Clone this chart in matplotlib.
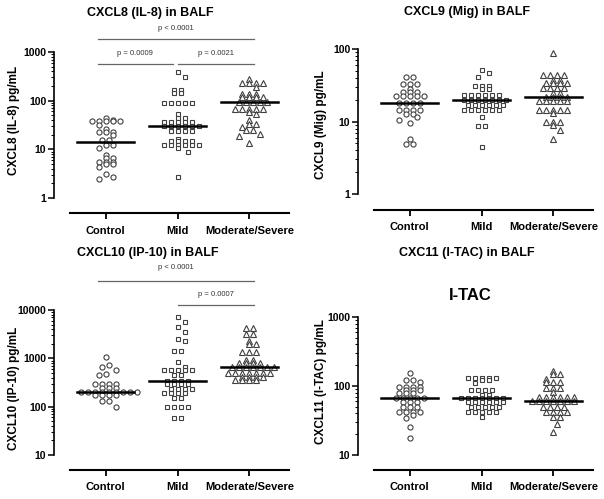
import numpy as np
import matplotlib
matplotlib.use("Agg")
import matplotlib.pyplot as plt
import matplotlib.transforms as mtransforms
from matplotlib.ticker import FixedLocator, LogLocator, NullFormatter

plt.rcParams['font.family'] = ['Liberation Sans', 'DejaVu Sans']

groups = ["Control", "Mild", "Moderate/Severe"]

# CXCL8 (IL-8), pg/mL
il8_control = [45, 41, 38, 38, 38, 38, 38, 31.6, 25.8, 23, 23, 23, 19.6, 15.5, 15.5,
               12.2, 12.2, 10.5, 7.6, 6.7, 6.7, 5.4, 5.4, 5.4, 4.9, 4.9, 4.3, 3.07, 2.74, 2.4]
il8_mild = [382, 301, 165, 165, 141, 141, 88, 88, 88, 88, 88, 53, 45, 45, 36, 36, 36, 36, 36,
            30, 30, 30, 30, 30, 30, 24, 24, 24, 24, 16.3, 14.8, 14.8, 14.8, 14.8,
            12.2, 12.2, 12.2, 12.2, 12.2, 12.2, 10.5, 8.9, 2.7]
il8_modsev = [277, 226, 226, 226, 226, 193, 137, 137, 137, 117, 117, 117, 117, 92, 92, 92, 92, 92,
              69, 69, 69, 69, 69, 59, 53, 40, 33, 33, 29, 25, 25, 21, 18.7, 13.3]

# CXCL9 (Mig), pg/mL
mig_control = [41.5, 41.5, 32.6, 32.6, 32.6, 28, 25.8, 25.8, 25.8, 22.5, 22.5, 22.5, 22.5, 22.5,
               18, 18, 18, 18, 14.4, 14.4, 14.4, 14.4, 12.7, 12.7, 11.4, 10.5, 9.4, 5.7, 4.85, 4.85]
mig_mild = [51.5, 46, 41.5, 31.2, 31.2, 31.2, 27.8, 27.8, 23, 23, 23, 23, 23, 23,
            19.8, 19.8, 19.8, 19.8, 19.8, 19.8, 19.8, 16.9, 16.9, 16.9, 16.9, 16.9, 16.9,
            14.4, 14.4, 14.4, 14.4, 14.4, 14.4, 11.4, 8.75, 8.75, 4.5]
mig_modsev = [87, 43.8, 43.8, 43.8, 43.8, 37.4, 37.4, 33.6, 33.6, 33.6, 33.6, 28.7, 28.7, 28.7, 28.7,
              24.5, 24.5, 22, 22, 22, 22, 19.4, 19.4, 19.4, 19.4, 19.4,
              14.4, 14.4, 14.4, 14.4, 14.4, 13, 9.9, 9.9, 9.9, 9, 7.6, 5.7]

# CXCL10 (IP-10), pg/mL
ip10_control = [1060, 730, 655, 576, 469, 453, 295, 295, 295, 295, 247, 247, 247,
                205, 205, 205, 205, 205, 205, 205, 205, 205, 175, 175, 175, 175, 131, 131, 100]
ip10_mild = [7310, 5760, 4530, 3570, 2510, 2290, 1420, 1420, 830, 676, 576, 576, 576, 576, 576,
             453, 453, 340, 340, 340, 340, 300, 300, 300, 300, 229, 229, 229, 229,
             190, 190, 190, 190, 150, 150, 100, 100, 100, 100, 59, 59]
ip10_modsev = [4200, 4200, 3150, 3150, 2290, 1960, 1960, 1380, 1380, 1380, 927, 927,
               791, 791, 791, 791, 660, 660, 660, 660, 660, 660, 660,
               491, 491, 491, 491, 491, 491, 491, 420, 420, 420, 420, 357, 357, 357, 357]

# CXCL11 (I-TAC), pg/mL
itac_control = [153, 122, 122, 113, 98, 98, 98, 98, 87, 87, 87, 78, 78, 78, 66, 66, 66, 66, 66,
                58, 58, 58, 50, 50, 50, 42, 42, 42, 42, 38, 34, 25.7, 17.8]
itac_mild = [132, 132, 132, 132, 132, 122, 122, 110, 87.5, 87.5, 87.5, 87.5, 74, 74,
             66, 66, 66, 66, 66, 66, 66, 59, 59, 59, 59, 59, 59, 50, 50, 50, 50, 50,
             42, 42, 42, 42, 42, 36]
itac_modsev = [165, 148, 148, 126, 115, 115, 115, 94, 94, 94, 81, 70, 70, 70, 70, 70, 70,
               61, 61, 61, 61, 61, 61, 61, 50, 50, 50, 50, 42, 42, 42, 42, 36, 36, 27.8, 21.8]

W, H = 604, 499
MARKERS = [("o", 3.7), ("s", 3.5), ("^", 4.1)]
EDGE = "#404040"


def px_axes(fig, left, top, right, bottom):
    return fig.add_axes([left / W, 1 - bottom / H, (right - left) / W, (bottom - top) / H])


def swarm(ax, xc, vals, sx=7.0, rx=6.0, ry=6.0, ry_single=8.0):
    """Prism-like layout: equal values in centred rows; rows nudged half a step,
    single points pushed sideways, to avoid overlaps."""
    vals = np.asarray(vals, float)
    ys = ax.transData.transform(np.column_stack([np.full(len(vals), float(xc)), vals]))[:, 1]
    off = np.zeros(len(vals))
    placed = []
    for u in sorted(set(vals), reverse=True):
        idx = np.where(vals == u)[0]
        base = (np.arange(len(idx)) - (len(idx) - 1) / 2) * sx
        y = ys[idx[0]]
        if len(idx) > 1:
            shifts, r_y = [0, 3.5, -3.5], ry
        else:
            shifts, r_y = [0, 3.5, -3.5, 7, -7, 10.5, -10.5], ry_single
        best, best_hits = base, None
        for shift in shifts:
            xs = base + shift
            hits = sum(((x - a) / rx) ** 2 + ((y - b) / r_y) ** 2 < 1 for x in xs for a, b in placed)
            if best_hits is None or hits < best_hits:
                best, best_hits = xs, hits
            if hits == 0:
                break
        off[idx] = best
        placed += [(x, y) for x in best]
    ppu = ax.transData.transform([(1, 1)])[0, 0] - ax.transData.transform([(0, 1)])[0, 0]
    return xc + off / ppu


def panel(ax, data, ylim, yticks, ylabel, outward):
    ax.set_yscale("log")
    ax.set_ylim(ylim)
    ax.set_xlim(-0.72, 2.55)
    for i, vals in enumerate(data):
        m, ms = MARKERS[i]
        xs = swarm(ax, i, vals)
        ax.plot(xs, vals, ls="none", marker=m, ms=ms, mfc="white", mec=EDGE, mew=0.8, clip_on=False)
        med = np.median(vals)
        ax.plot([i - 0.4, i + 0.4], [med, med], color="black", lw=1.8, zorder=3)
    for s in ["top", "right"]:
        ax.spines[s].set_visible(False)
    ax.spines["bottom"].set_position(("outward", outward))
    ax.spines["bottom"].set_bounds(-0.5, 2.55)
    ax.spines["bottom"].set_linewidth(1.5)
    ax.spines["left"].set_linewidth(1.2)
    ax.set_xticks(range(3))
    ax.set_xticklabels(groups, fontweight="bold", fontsize=8)
    ax.tick_params(axis="x", length=4, width=1.3, pad=5)
    ax.yaxis.set_major_locator(FixedLocator(yticks))
    ax.set_yticklabels([str(t) for t in yticks], fontweight="bold", fontsize=7.5)
    ax.yaxis.set_minor_locator(LogLocator(base=10, subs=np.arange(2, 10)))
    ax.yaxis.set_minor_formatter(NullFormatter())
    ax.tick_params(axis="y", which="major", length=4, width=1.1, pad=1.5)
    ax.tick_params(axis="y", which="minor", length=2, width=0.7)
    ax.set_ylabel(ylabel, fontweight="bold", fontsize=8.5)
    ax.patch.set_alpha(0)


def bracket(ax, x0, x1, y_line, y_text, label):
    tr = mtransforms.blended_transform_factory(ax.transData, ax.transAxes)
    ax.plot([x0, x1], [y_line, y_line], transform=tr, color="#666666", lw=0.9, clip_on=False)
    ax.text((x0 + x1) / 2, y_text, label, transform=tr, ha="center", va="center",
            fontsize=5.5, color="#333333")


fig = plt.figure(figsize=(W / 100, H / 100), dpi=100)

ax1 = px_axes(fig, 54, 52, 289, 198)
panel(ax1, [il8_control, il8_mild, il8_modsev], (1, 1000), [1, 10, 100, 1000],
      "CXCL8 (IL-8) pg/mL", 10.8)
ax1.yaxis.set_label_coords(-34 / 235, 0.53)
bracket(ax1, -0.11, 2.06, 1.089, 1.164, "p < 0.0001")
bracket(ax1, -0.11, 0.93, 0.918, 0.993, "p = 0.0009")
bracket(ax1, 1.01, 2.06, 0.918, 0.993, "p = 0.0021")

ax2 = px_axes(fig, 358, 49, 593, 194)
panel(ax2, [mig_control, mig_mild, mig_modsev], (1, 100), [1, 10, 100],
      "CXCL9 (Mig) pg/mL", 11.5)
ax2.yaxis.set_label_coords(-31 / 235, 0.48)

ax3 = px_axes(fig, 54, 310, 289, 455)
panel(ax3, [ip10_control, ip10_mild, ip10_modsev], (10, 10000), [10, 100, 1000, 10000],
      "CXCL10 (IP-10) pg/mL", 10.8)
ax3.yaxis.set_label_coords(-34 / 235, 0.46)
bracket(ax3, -0.11, 2.06, 1.2, 1.29, "p < 0.0001")
bracket(ax3, 1.01, 2.06, 1.034, 1.11, "p = 0.0007")

ax4 = px_axes(fig, 358, 317, 593, 455)
panel(ax4, [itac_control, itac_mild, itac_modsev], (10, 1000), [10, 100, 1000],
      "CXCL11 (I-TAC) pg/mL", 10.8)
ax4.yaxis.set_label_coords(-31 / 235, 0.53)

title_kw = dict(ha="center", va="center", fontweight="bold", fontsize=9)
fig.text(150 / W, 1 - 13 / H, "CXCL8 (IL-8) in BALF", **title_kw)
fig.text(467 / W, 1 - 12 / H, "CXCL9 (Mig) in BALF", **title_kw)
fig.text(148 / W, 1 - 253 / H, "CXCL10 (IP-10) in BALF", **title_kw)
fig.text(467 / W, 1 - 253 / H, "CXC11 (I-TAC) in BALF", **title_kw)
fig.text(470 / W, 1 - 295 / H, "I-TAC", ha="center", va="center", fontweight="bold", fontsize=12)

fig.savefig("out.png", dpi=100)
